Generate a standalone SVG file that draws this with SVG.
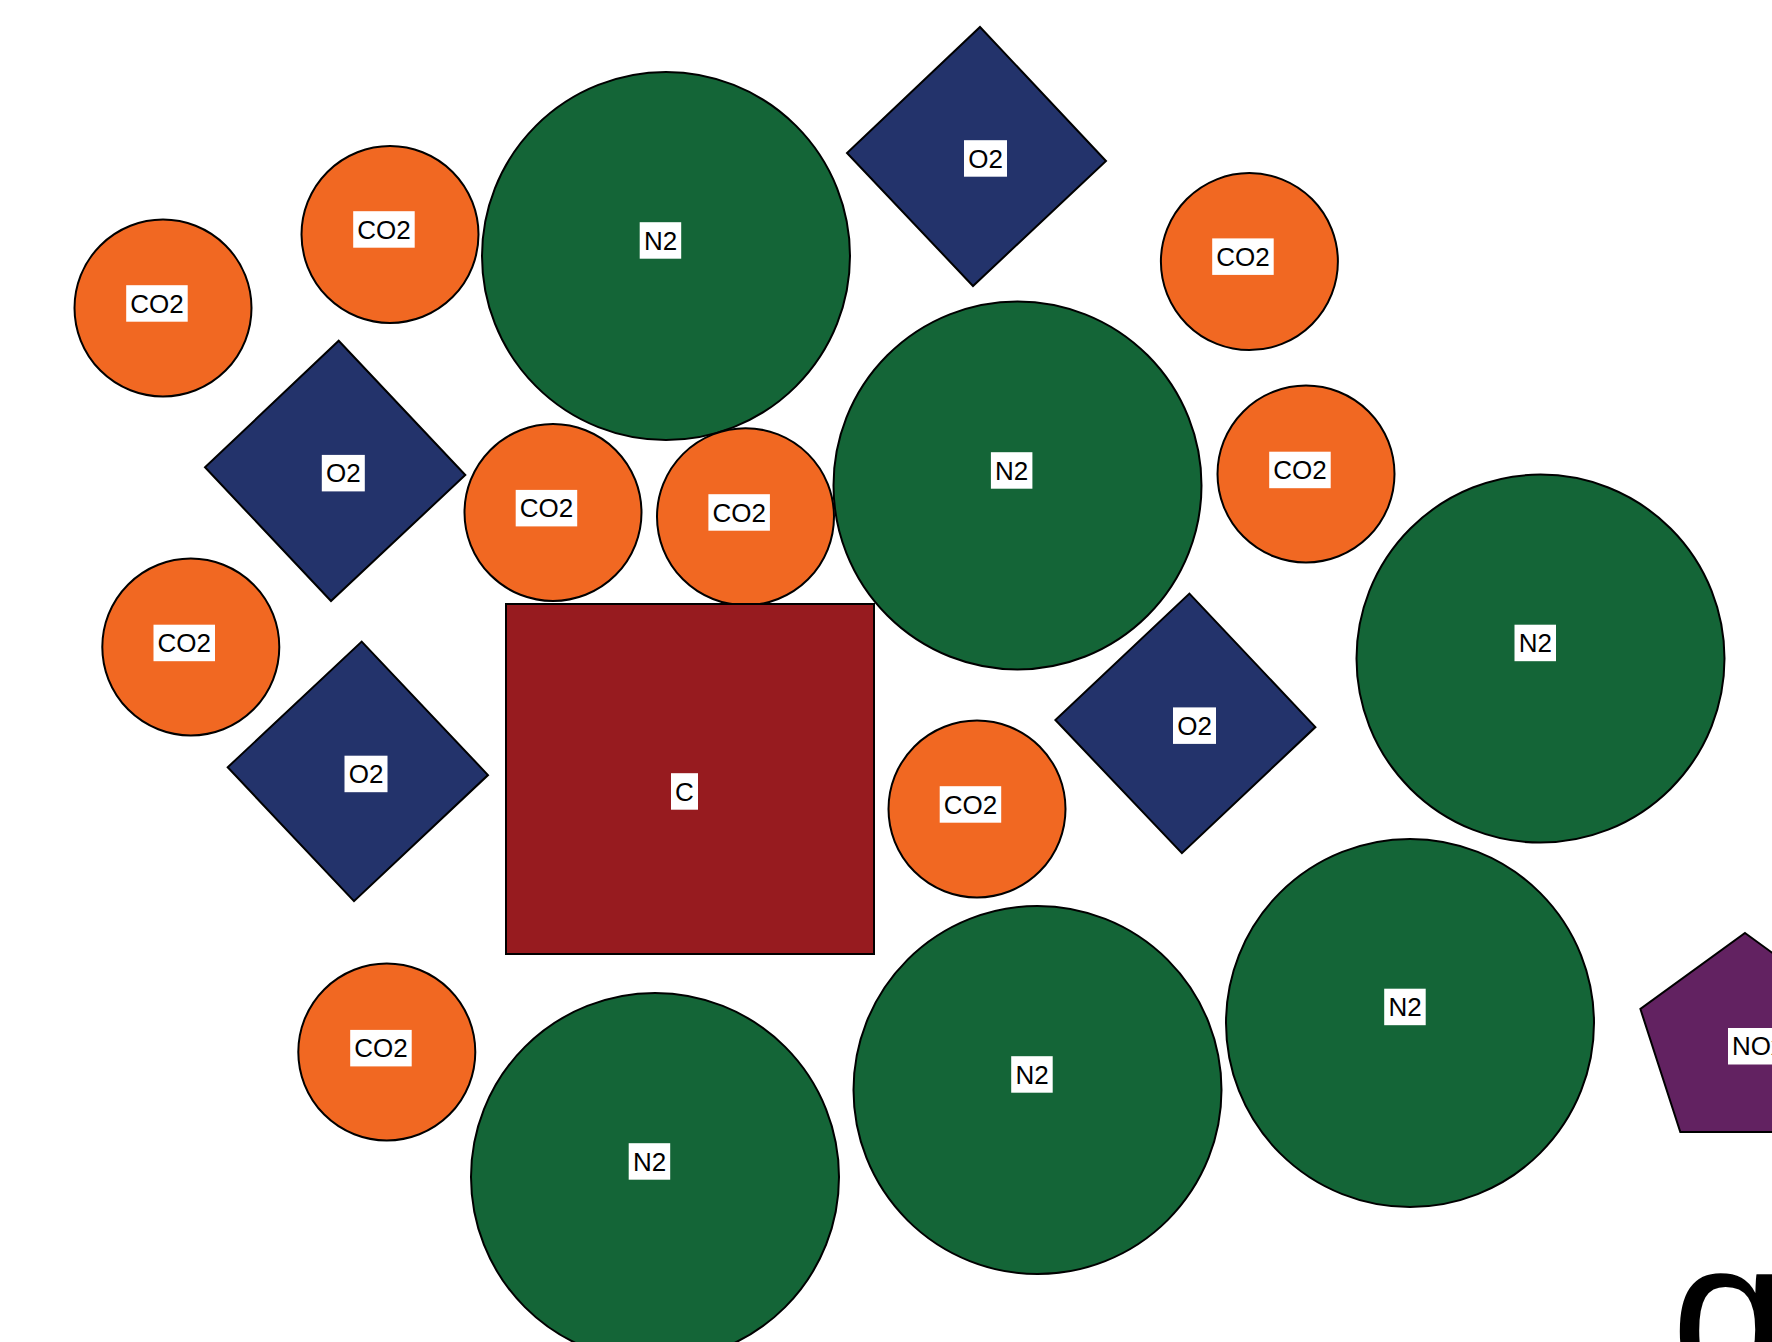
<svg xmlns="http://www.w3.org/2000/svg" width="1772" height="1342" viewBox="0 0 1772 1342">
<style>
.co2{fill:#F16822;stroke:#000;stroke-width:2}
.n2{fill:#146537;stroke:#000;stroke-width:2}
.o2{fill:#23336B;stroke:#000;stroke-width:2}
.c{fill:#971B1F;stroke:#000;stroke-width:2}
.nox{fill:#622261;stroke:#000;stroke-width:2}
.lb{fill:#fff}
.t{font-family:"Liberation Sans",Arial,sans-serif;font-size:26px;fill:#000;text-anchor:middle}
.big{font-family:"Liberation Sans",Arial,sans-serif;font-size:210px;fill:#000}
</style>
<rect width="1772" height="1342" fill="#fff"/>
<g id="connectors"></g>
<g id="n_co2_1"><circle class="co2" cx="163" cy="308" r="88.5"/><rect class="lb" x="126.2" y="285.2" width="61.5" height="36.5"/><text class="t" x="157" y="312.5">CO2</text></g>
<g id="n_co2_2"><circle class="co2" cx="390" cy="234.5" r="88.5"/><rect class="lb" x="353.2" y="211.2" width="61.5" height="36.5"/><text class="t" x="384" y="238.5">CO2</text></g>
<g id="n_n2_1"><circle class="n2" cx="666" cy="256" r="184"/><rect class="lb" x="639.7" y="222.2" width="41.5" height="36.5"/><text class="t" x="660.5" y="249.5">N2</text></g>
<g id="n_o2_1"><polygon class="o2" points="980,27 1106,161 973,286 847,153"/><rect class="lb" x="964" y="140.2" width="43" height="36.5"/><text class="t" x="985.5" y="167.5">O2</text></g>
<g id="n_co2_3"><circle class="co2" cx="1249.4" cy="261.6" r="88.5"/><rect class="lb" x="1212.2" y="238.4" width="61.5" height="36.5"/><text class="t" x="1243" y="265.7">CO2</text></g>
<g id="n_o2_2"><polygon class="o2" points="338.7,340.7 465.3,475 331,601 205,467.3"/><rect class="lb" x="321.8" y="454.9" width="43" height="36.5"/><text class="t" x="343.3" y="482.2">O2</text></g>
<g id="n_co2_4"><circle class="co2" cx="553" cy="512.5" r="88.5"/><rect class="lb" x="515.7" y="489.9" width="61.5" height="36.5"/><text class="t" x="546.5" y="517.2">CO2</text></g>
<g id="n_co2_5"><circle class="co2" cx="745.5" cy="516.7" r="88.5"/><rect class="lb" x="708.4" y="494.2" width="61.5" height="36.5"/><text class="t" x="739.2" y="521.5">CO2</text></g>
<g id="n_n2_2"><circle class="n2" cx="1017.5" cy="485.4" r="184"/><rect class="lb" x="990.9" y="452.2" width="41.5" height="36.5"/><text class="t" x="1011.7" y="479.5">N2</text></g>
<g id="n_co2_6"><circle class="co2" cx="1306" cy="474" r="88.5"/><rect class="lb" x="1269.2" y="451.7" width="61.5" height="36.5"/><text class="t" x="1300" y="479">CO2</text></g>
<g id="n_n2_3"><circle class="n2" cx="1540.5" cy="658.6" r="184"/><rect class="lb" x="1514.5" y="624.7" width="41.5" height="36.5"/><text class="t" x="1535.3" y="652">N2</text></g>
<g id="n_co2_7"><circle class="co2" cx="190.8" cy="647" r="88.5"/><rect class="lb" x="153.5" y="624.7" width="61.5" height="36.5"/><text class="t" x="184.3" y="652">CO2</text></g>
<g id="n_o2_3"><polygon class="o2" points="361.7,641.6 488,775.1 354,901.2 227.7,767.3"/><rect class="lb" x="344.5" y="755.7" width="43" height="36.5"/><text class="t" x="366" y="783">O2</text></g>
<g id="n_c"><rect class="c" x="506" y="604" width="368" height="350"/><rect class="lb" x="671" y="773.2" width="27" height="36.5"/><text class="t" x="684.5" y="800.5">C</text></g>
<g id="n_co2_8"><circle class="co2" cx="977" cy="809" r="88.5"/><rect class="lb" x="939.7" y="786.2" width="61.5" height="36.5"/><text class="t" x="970.5" y="813.5">CO2</text></g>
<g id="n_o2_4"><polygon class="o2" points="1189.4,593.6 1315.4,727.1 1181.9,853.2 1055.4,720"/><rect class="lb" x="1173" y="707.4" width="43" height="36.5"/><text class="t" x="1194.5" y="734.7">O2</text></g>
<g id="n_n2_4"><circle class="n2" cx="1410" cy="1023" r="184"/><rect class="lb" x="1384.2" y="988.7" width="41.5" height="36.5"/><text class="t" x="1405" y="1016">N2</text></g>
<g id="n_n2_5"><circle class="n2" cx="1037.5" cy="1090" r="184"/><rect class="lb" x="1011.2" y="1056.2" width="41.5" height="36.5"/><text class="t" x="1032" y="1083.5">N2</text></g>
<g id="n_co2_9"><circle class="co2" cx="386.8" cy="1052" r="88.5"/><rect class="lb" x="350.2" y="1029.9" width="61.5" height="36.5"/><text class="t" x="381" y="1057.2">CO2</text></g>
<g id="n_n2_6"><circle class="n2" cx="655" cy="1177" r="184"/><rect class="lb" x="628.7" y="1143.2" width="41.5" height="36.5"/><text class="t" x="649.5" y="1170.5">N2</text></g>
<g id="n_nox"><polygon class="nox" points="1745,933 1849.6,1009 1809.7,1132 1680.3,1132 1640.4,1009"/><rect class="lb" x="1728" y="1028" width="60" height="36.5"/><text class="t" x="1758" y="1055.3">NOx</text></g>
<text class="big" x="1671" y="1386">q</text>
</svg>
